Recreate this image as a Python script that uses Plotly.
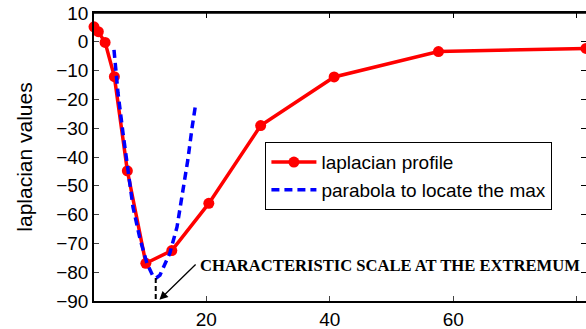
import plotly.graph_objects as go

# laplacian profile
scales = [1.8, 2.5, 3.6, 5.1, 7.2, 10.2, 14.4, 20.4, 28.8, 40.7, 57.6, 81.5]
laplacian = [5.2, 3.5, -0.2, -12.1, -44.8, -76.9, -72.5, -56.1, -29.1, -12.2, -3.4, -2.3]

# parabola
para_x = [5.04, 5.69, 6.50, 7.31, 8.12, 9.25, 10.39, 11.36, 11.9, 12.49, 14.1, 15.25, 16.2, 17.0, 17.7, 18.2]
para_y = [-2.8, -17.8, -31.7, -45.6, -57.4, -68.4, -77.0, -81.4, -82.0, -81.0, -73.3, -64.3, -52.5, -41.0, -29.6, -22.6]

# extremum marker
ext_x = [11.8, 11.8]
ext_y = [-82.0, -90.0]

x_ticks = [20, 40, 60, 80]
y_ticks = [-90, -80, -70, -60, -50, -40, -30, -20, -10, 0, 10]
x_range = [1.8, 81.5]
y_range = [-90, 10]

fig = go.Figure()
fig.add_trace(go.Scatter(
    x=scales, y=laplacian, mode="lines+markers", name="laplacian profile",
    line=dict(color="#ff0000", width=3.5),
    marker=dict(color="#ff0000", size=11, symbol="circle"),
    cliponaxis=False,
))
fig.add_trace(go.Scatter(
    x=para_x, y=para_y, mode="lines", name="parabola to locate the max",
    line=dict(color="#0000ff", width=3.5, dash="8px,5px"),
))
fig.add_trace(go.Scatter(
    x=ext_x, y=ext_y, mode="lines", showlegend=False,
    line=dict(color="black", width=2, dash="5px,3px"),
))
# empty trace so the top/right frame axes get drawn
fig.add_trace(go.Scatter(
    x=[None], y=[None], xaxis="x2", yaxis="y2", showlegend=False, hoverinfo="skip",
))

fig.add_annotation(
    x=12.4, y=-89.6, ax=18.5, ay=-76.8, xref="x", yref="y", axref="x", ayref="y",
    text="", font=dict(size=1), showarrow=True, arrowhead=2, arrowsize=1.3,
    arrowwidth=1.3, arrowcolor="black",
)
fig.add_annotation(
    x=18.65, y=-77.8, xref="x", yref="y", xanchor="left", yanchor="middle",
    text="<b>CHARACTERISTIC SCALE AT THE EXTREMUM</b>", showarrow=False,
    font=dict(family="Liberation Serif", size=16.6, color="black"),
)

# top frame line
fig.add_shape(type="line", xref="paper", yref="paper", x0=0, x1=1, y0=1, y1=1,
              line=dict(color="black", width=1.5), layer="above")

fig.update_layout(
    width=586, height=329,
    margin=dict(l=94, r=0, t=13, b=28),
    paper_bgcolor="white", plot_bgcolor="white",
    font=dict(family="Liberation Sans", color="black", size=19),
    showlegend=True,
    legend=dict(
        x=0.348, y=0.552, xanchor="left", yanchor="top",
        bgcolor="white", bordercolor="black", borderwidth=1.2,
        font=dict(size=19), tracegroupgap=0, itemwidth=45,
    ),
    xaxis=dict(
        range=x_range, tickvals=x_ticks, ticks="inside", ticklen=5,
        showline=True, linecolor="black", linewidth=1.5, mirror=False,
        showgrid=False, zeroline=False, tickfont=dict(size=19),
        automargin=False,
    ),
    yaxis=dict(
        range=y_range, tickvals=y_ticks, ticks="inside", ticklen=5,
        showline=True, linecolor="black", linewidth=1.5, mirror=False,
        showgrid=False, zeroline=False, tickfont=dict(size=19),
        title=dict(text="laplacian values", font=dict(size=21), standoff=18),
        automargin=False, ticklabeloverflow="allow",
    ),
    xaxis2=dict(
        range=x_range, tickvals=x_ticks, ticks="inside", ticklen=5,
        overlaying="x", side="top", anchor="y2", showticklabels=False,
        showline=True, linecolor="black", linewidth=1.5, tickcolor="black",
        showgrid=False, zeroline=False,
    ),
    yaxis2=dict(
        range=y_range, tickvals=y_ticks, ticks="inside", ticklen=5,
        overlaying="y", side="right", anchor="x2", showticklabels=False, showline=False,
        showgrid=False, zeroline=False, tickcolor="black",
    ),
)
fig.write_html("out.html", post_script="document.body.style.margin='0';",
               config={"displayModeBar": False})
